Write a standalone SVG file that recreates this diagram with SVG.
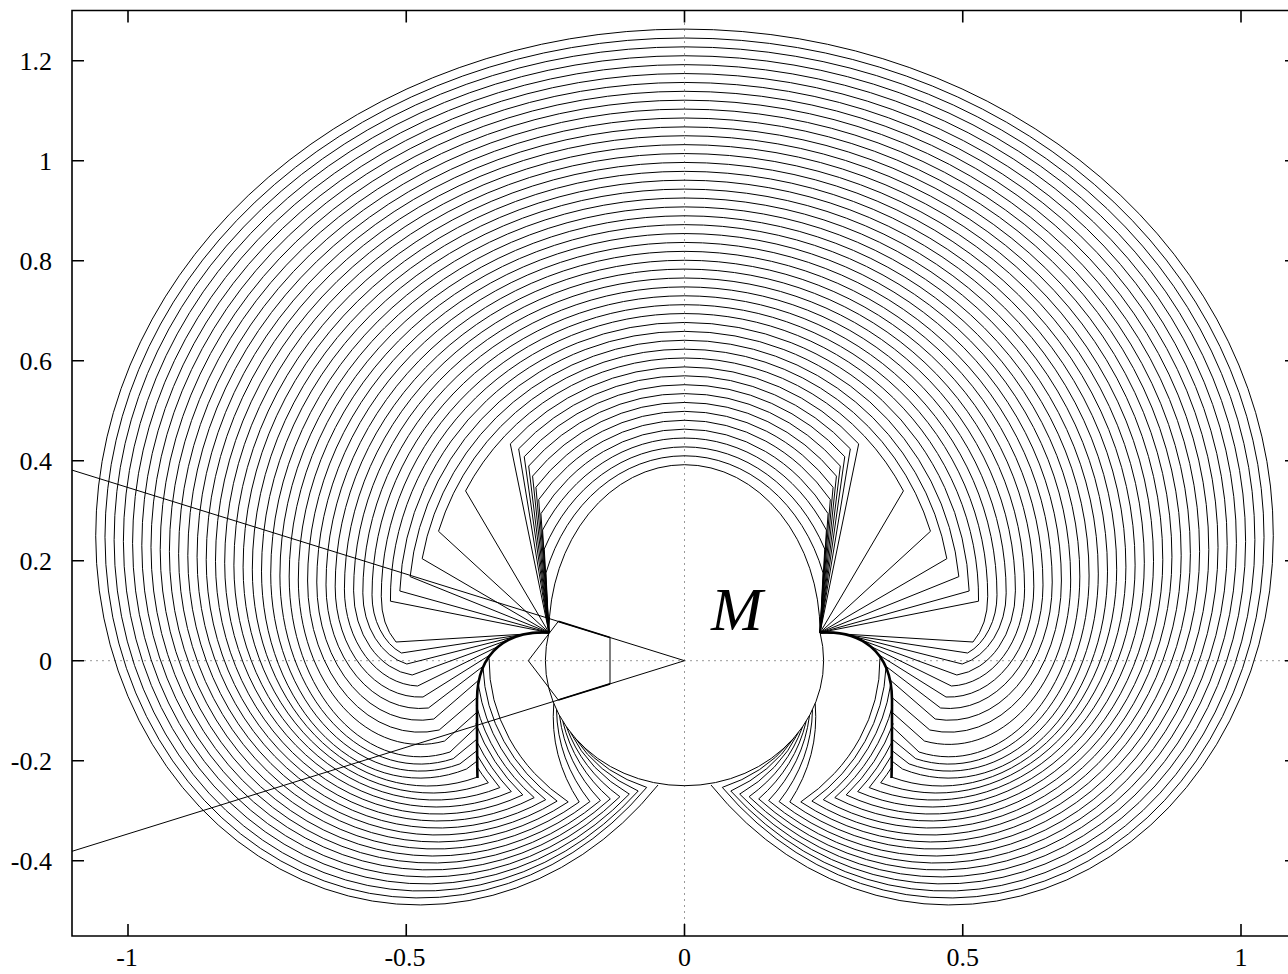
<svg xmlns="http://www.w3.org/2000/svg" xmlns:xlink="http://www.w3.org/1999/xlink" width="1288" height="974" viewBox="0 0 1288 974">
<style>
.c{fill:none;stroke:#000;stroke-width:1;vector-effect:non-scaling-stroke}
.i{fill:none;stroke:#000;stroke-width:1}
.t{fill:none;stroke:#000;stroke-width:2.6}
.ax{fill:none;stroke:#000;stroke-width:1.6}
.z{fill:none;stroke:#999;stroke-width:1;stroke-dasharray:2 4}
</style>
<rect width="1288" height="974" fill="#fff"/>
<g id="zeroaxes">
<path class="z" d="M684.5,11V936M72,660.7H1297"/>
</g>
<g id="contours">
<g id="L">
<g transform="matrix(556.5 0 0 -500 684.5 660.7)">
<path class="c" d="M0,0.392A0.2436,0.3358 0 0 1 -0.2436,0.0562A0.25,0.25 0 0 1 0,-0.25"/>
<path class="c" d="M0,0.4098A0.2636,0.3488 0 0 1 -0.249,0.1754L-0.2436,0.0562"/>
<path class="c" d="M0,0.4276A0.2801,0.3627 0 0 1 -0.252,0.2233L-0.2436,0.0562"/>
<path class="c" d="M0,0.4453A0.2967,0.3765 0 0 1 -0.255,0.2613L-0.2436,0.0562"/>
<path class="c" d="M0,0.4631A0.3132,0.3904 0 0 1 -0.258,0.2941L-0.2436,0.0562"/>
<path class="c" d="M0,0.4809A0.3298,0.4042 0 0 1 -0.262,0.3222L-0.2436,0.0562"/>
<path class="c" d="M0,0.4987A0.3463,0.418 0 0 1 -0.267,0.3468L-0.2436,0.0562"/>
<path class="c" d="M0,0.5165A0.3629,0.4319 0 0 1 -0.273,0.3692L-0.2436,0.0562"/>
<path class="c" d="M0,0.5342A0.3794,0.4457 0 0 1 -0.28,0.3893L-0.2436,0.0562"/>
<path class="c" d="M0,0.552A0.396,0.4596 0 0 1 -0.288,0.408L-0.2436,0.0562"/>
<path class="c" d="M0,0.5698A0.4125,0.4734 0 0 1 -0.298,0.4238L-0.2436,0.0562"/>
<path class="c" d="M0,0.5876A0.4291,0.4872 0 0 1 -0.313,0.4336L-0.2436,0.0562"/>
<path class="c" d="M0,0.6054A0.4456,0.5011 0 0 1 -0.3934,0.3396L-0.2436,0.0562"/>
<path class="c" d="M0,0.6231A0.4622,0.5149 0 0 1 -0.442,0.2588L-0.2436,0.0562"/>
<path class="c" d="M0,0.6409A0.4787,0.5288 0 0 1 -0.4714,0.204L-0.2436,0.0562"/>
<path class="c" d="M0,0.6587A0.4953,0.5426 0 0 1 -0.493,0.1681L-0.2436,0.0562"/>
<path class="c" d="M0,0.6765A0.5118,0.5564 0 0 1 -0.5115,0.1394L-0.2436,0.0562"/>
<path class="c" d="M0,0.6943A0.5284,0.5703 0 0 1 -0.5284,0.119L-0.2436,0.0562"/>
<path class="c" d="M0,0.712A0.5449,0.5841 0 0 1 -0.5449,0.1279"/>
<path class="c" d="M0,0.7298A0.5615,0.598 0 0 1 -0.5615,0.1319"/>
<path class="c" d="M0,0.7476A0.578,0.6118 0 0 1 -0.578,0.1358"/>
<path class="c" d="M0,0.7654A0.5946,0.6256 0 0 1 -0.5946,0.1397"/>
<path class="c" d="M0,0.7832A0.6111,0.6395 0 0 1 -0.6111,0.1437"/>
<path class="c" d="M0,0.8009A0.6277,0.6533 0 0 1 -0.6277,0.1476"/>
<path class="c" d="M0,0.8187A0.6442,0.6672 0 0 1 -0.6442,0.1516"/>
<path class="c" d="M0,0.8365A0.6608,0.681 0 0 1 -0.6608,0.1555"/>
<path class="c" d="M0,0.8543A0.6773,0.6948 0 0 1 -0.6773,0.1594"/>
<path class="c" d="M0,0.8721A0.6939,0.7087 0 0 1 -0.6939,0.1634"/>
<path class="c" d="M0,0.8898A0.7104,0.7225 0 0 1 -0.7104,0.1673"/>
<path class="c" d="M0,0.9076A0.727,0.7364 0 0 1 -0.727,0.1713"/>
<path class="c" d="M0,0.9254A0.7435,0.7502 0 0 1 -0.7435,0.1752"/>
<path class="c" d="M0,0.9432A0.7601,0.764 0 0 1 -0.7601,0.1791"/>
<path class="c" d="M0,0.961A0.7766,0.7779 0 0 1 -0.7766,0.1831"/>
<path class="c" d="M0,0.9787A0.7932,0.7917 0 0 1 -0.7932,0.187"/>
<path class="c" d="M0,0.9965A0.8097,0.8056 0 0 1 -0.8097,0.191"/>
<path class="c" d="M0,1.0143A0.8263,0.8194 0 0 1 -0.8263,0.1949"/>
<path class="c" d="M0,1.0321A0.8428,0.8332 0 0 1 -0.8428,0.1988"/>
<path class="c" d="M0,1.0499A0.8594,0.8471 0 0 1 -0.8594,0.2028"/>
<path class="c" d="M0,1.0676A0.8759,0.8609 0 0 1 -0.8759,0.2067"/>
<path class="c" d="M0,1.0854A0.8925,0.8748 0 0 1 -0.8925,0.2107"/>
<path class="c" d="M0,1.1032A0.909,0.8886 0 0 1 -0.909,0.2146"/>
<path class="c" d="M0,1.121A0.9256,0.9024 0 0 1 -0.9256,0.2185"/>
<path class="c" d="M0,1.1388A0.9421,0.9163 0 0 1 -0.9421,0.2225"/>
<path class="c" d="M0,1.1565A0.9587,0.9301 0 0 1 -0.9587,0.2264"/>
<path class="c" d="M0,1.1743A0.9752,0.944 0 0 1 -0.9752,0.2304"/>
<path class="c" d="M0,1.1921A0.9918,0.9578 0 0 1 -0.9918,0.2343"/>
<path class="c" d="M0,1.2099A1.0083,0.9716 0 0 1 -1.0083,0.2382"/>
<path class="c" d="M0,1.2277A1.0249,0.9855 0 0 1 -1.0249,0.2422"/>
<path class="c" d="M0,1.2454A1.0414,0.9993 0 0 1 -1.0414,0.2461"/>
<path class="c" d="M0,1.2632A1.058,1.0132 0 0 1 -1.058,0.25"/>
</g>
<g id="lower">
<path class="i" d="M381.3,596.75A38.7,57.7 0 0 0 396,642L549,632.6"/>
<path class="i" d="M372,594.75A48,63.2 0 0 0 401.4,653L535.1,632.7"/>
<path class="i" d="M362.8,592.8A57.2,73.2 0 0 0 406.8,664L521.9,634.8"/>
<path class="i" d="M353.6,590.85A66.4,84.7 0 0 0 412.2,675L510,639.2"/>
<path class="i" d="M344.4,588.85A75.6,97.2 0 0 0 417.6,686L499.4,645.8"/>
<path class="i" d="M335.2,586.9A84.8,110.2 0 0 0 423,697L490.5,654.7"/>
<path class="i" d="M326,584.9A94,123.6 0 0 0 428.4,708L483.6,665.9"/>
<path class="i" d="M316.8,582.95A103.2,137.3 0 0 0 433.8,719L479.1,679.8"/>
<path class="i" d="M307.6,581A112.4,151.2 0 0 0 439.2,730L477,697.5"/>
<path class="i" d="M298.3,579A121.7,165.4 0 0 0 444.6,741L477,712.2"/>
<path class="i" d="M289.2,577.05A130.8,179.75 0 0 0 450,752L477,726.5"/>
<path class="i" d="M279.9,575.05A140.1,189 0 0 0 453.2,758.7L477,739.1"/>
<path class="i" d="M270.7,573.1A149.3,197.7 0 0 0 459.9,763.9L477,750.6"/>
<path class="i" d="M261.5,571.15A158.5,207 0 0 0 466.5,769L477,761.1"/>
<path class="i" d="M252.3,569.15A175.4,216.85 0 0 0 476.9,777.3"/>
<path class="i" d="M243.1,567.2A189,225.8 0 0 0 488.3,782.8A238.7,214.5 0 0 1 476.3,765.7"/>
<path class="i" d="M233.9,565.2A201.3,234.8 0 0 0 499.8,787.6A232.5,208.9 0 0 1 476.4,753.9"/>
<path class="i" d="M224.7,563.25A212.3,243.75 0 0 0 511.3,791.6A226.3,203.4 0 0 1 476.9,741.8"/>
<path class="i" d="M215.5,561.3A222.4,252.7 0 0 0 522.8,794.9A220.2,197.8 0 0 1 475.7,723.5"/>
<path class="i" d="M206.2,559.3A232.1,261.7 0 0 0 534.2,797.6A214,192.3 0 0 1 476.3,705.2"/>
<path class="i" d="M197.1,557.35A241.2,270.65 0 0 0 545.7,799.7A207.8,186.7 0 0 1 478.6,686"/>
<path class="i" d="M187.8,555.35A250,279.65 0 0 0 557.1,801.1A201.6,181.2 0 0 1 483,667.3"/>
<path class="i" d="M178.6,553.4A258.3,288.6 0 0 0 568.2,801.9A195.4,175.6 0 0 1 489.1,658.6"/>
<path class="i" d="M169.4,551.45A266.2,297.55 0 0 0 579.2,802A189.3,170.1 0 0 1 553.8,703.5"/>
<path class="i" d="M160.2,549.45A273.9,306.55 0 0 0 589.9,801.6A183.1,164.5 0 0 1 556.5,709.5"/>
<path class="i" d="M151,547.5A281.3,315.5 0 0 0 600.4,800.5A176.9,159 0 0 1 559.5,715.5"/>
<path class="i" d="M141.8,545.5A288.4,324.5 0 0 0 610.3,798.9A170.7,153.4 0 0 1 562.8,721.3"/>
<path class="i" d="M132.6,543.55A295.2,333.45 0 0 0 619.9,796.7A164.6,147.9 0 0 1 566.5,726.9"/>
<path class="i" d="M123.4,541.6A302,342.4 0 0 0 629.3,794.1A158.4,142.3 0 0 1 570.5,732.4"/>
<path class="i" d="M114.1,539.6A308.5,351.4 0 0 0 638.2,791A152.2,136.8 0 0 1 574.9,737.7"/>
<path class="i" d="M105,537.65A314.8,360.35 0 0 0 646.7,787.4A146,131.2 0 0 1 579.5,742.7"/>
<path class="i" d="M95.7,535.7A323.6,369.3 0 0 0 658,785"/>
<path class="t" d="M549,632.6C510,630 477,650 477,700C477,735 477,760 477.5,778"/>
</g>
</g>
<use xlink:href="#L" transform="matrix(-1 0 0 1 1369 0)"/>
</g>
<g id="cone" fill="none" stroke="#000">
<path stroke-width="1" d="M72,470.1L684.5,660.7L72,851.3M610,637.5V683.9M558.3,621.4L528.3,660.7L558.3,700"/>
<path stroke-width="1.8" d="M558.3,621.4L610,637.5M558.3,700L610,683.9"/>
</g>
<g id="frame">
<path class="ax" d="M72,10.5H1297V936H72Z"/>
<path class="ax" d="M128,936v-12M406.25,936v-12M684.5,936v-12M962.75,936v-12M1241,936v-12M128,10.5v12M406.25,10.5v12M684.5,10.5v12M962.75,10.5v12M1241,10.5v12M72,60.7h12M72,160.7h12M72,260.7h12M72,360.7h12M72,460.7h12M72,560.7h12M72,660.7h12M72,760.7h12M72,860.7h12M1297,60.7h-12M1297,160.7h-12M1297,260.7h-12M1297,360.7h-12M1297,460.7h-12M1297,560.7h-12M1297,660.7h-12M1297,760.7h-12M1297,860.7h-12"/>
</g>
<g id="ylabels" text-anchor="end" font-family="'Liberation Serif','Times New Roman','DejaVu Serif',serif" font-size="26" fill="#000">
<text x="52" y="70.2">1.2</text>
<text x="52" y="170.2">1</text>
<text x="52" y="270.2">0.8</text>
<text x="52" y="370.2">0.6</text>
<text x="52" y="470.2">0.4</text>
<text x="52" y="570.2">0.2</text>
<text x="52" y="670.2">0</text>
<text x="52" y="770.2">-0.2</text>
<text x="52" y="870.2">-0.4</text>
</g>
<g id="xlabels" text-anchor="middle" font-family="'Liberation Serif','Times New Roman','DejaVu Serif',serif" font-size="26" fill="#000">
<text x="127" y="966">-1</text>
<text x="405" y="966">-0.5</text>
<text x="684.5" y="966">0</text>
<text x="962.75" y="966">0.5</text>
<text x="1241" y="966">1</text>
</g>
<text id="M" x="711" y="630" font-family="'Liberation Serif','Times New Roman','DejaVu Serif',serif" font-style="italic" font-size="62" fill="#000">M</text>
</svg>
